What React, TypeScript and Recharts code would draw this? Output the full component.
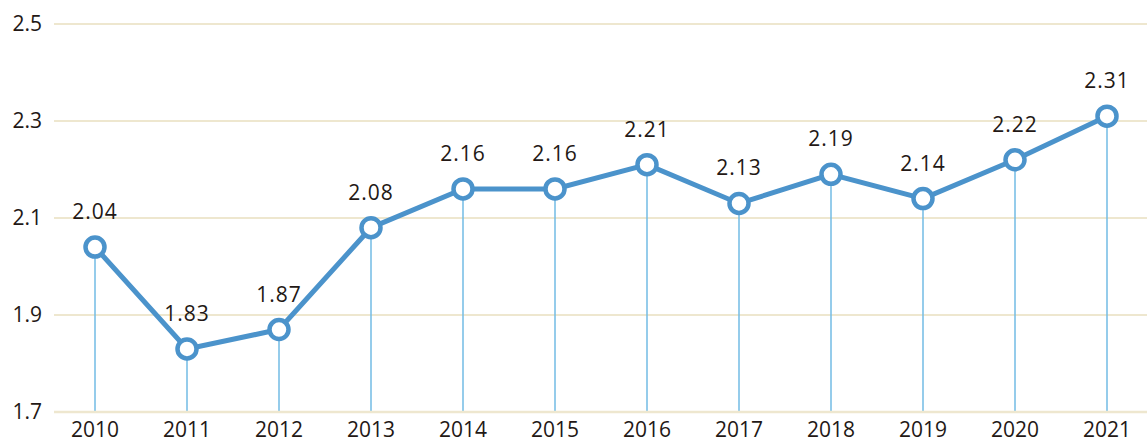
import React from 'react';
import { LineChart, Line, XAxis, YAxis, CartesianGrid, LabelList, ReferenceLine } from 'recharts';

const years = ['2010', '2011', '2012', '2013', '2014', '2015', '2016', '2017', '2018', '2019', '2020', '2021'];
const values = [2.04, 1.83, 1.87, 2.08, 2.16, 2.16, 2.21, 2.13, 2.19, 2.14, 2.22, 2.31];
const yTicks = [1.7, 1.9, 2.1, 2.3, 2.5];

const data = years.map((year, i) => ({ year, value: values[i] }));

const FONT = '"Open Sans", "Noto Sans", sans-serif';
const TEXT = '#231815';
const BLUE = '#4b93cb';
const DROP = '#72bbe4';
const GRID = '#eee7cf';
const FS = 21;

export default function App() {
  return (
    <div style={{ position: 'absolute', left: 0, top: 0, width: 1147, height: 442, background: '#fff' }}>
      <LineChart width={1147} height={442} data={data} margin={{ top: 24, right: 0, bottom: 0, left: 0 }}>
        <CartesianGrid vertical={false} stroke={GRID} strokeWidth={2} />
        <XAxis
          dataKey="year"
          padding={{ left: 41, right: 40 }}
          tickLine={false}
          tickSize={0}
          tickMargin={10}
          axisLine={{ stroke: GRID, strokeWidth: 2.5 }}
          height={30}
          interval={0}
          tick={{ fill: TEXT, fontSize: FS, fontFamily: FONT }}
        />
        <YAxis
          domain={[1.7, 2.5]}
          ticks={yTicks}
          tickFormatter={(v: number) => v.toFixed(1)}
          width={54}
          axisLine={false}
          tickLine={false}
          tickSize={0}
          tickMargin={12}
          tick={{ fill: TEXT, fontSize: FS, fontFamily: FONT }}
        />
        {data.map((d) => (
          <ReferenceLine
            key={d.year}
            segment={[{ x: d.year, y: yTicks[0] }, { x: d.year, y: d.value }]}
            stroke={DROP}
            strokeWidth={1.5}
          />
        ))}
        <Line
          dataKey="value"
          stroke={BLUE}
          strokeWidth={5}
          dot={{ r: 9.5, fill: '#fff', stroke: BLUE, strokeWidth: 4.5 }}
          activeDot={false}
          isAnimationActive={false}
        >
          <LabelList dataKey="value" position="top" offset={28} fill={TEXT} fontSize={FS} fontFamily={FONT} letterSpacing={1} formatter={(v: number) => v.toFixed(2)} />
        </Line>
      </LineChart>
    </div>
  );
}
